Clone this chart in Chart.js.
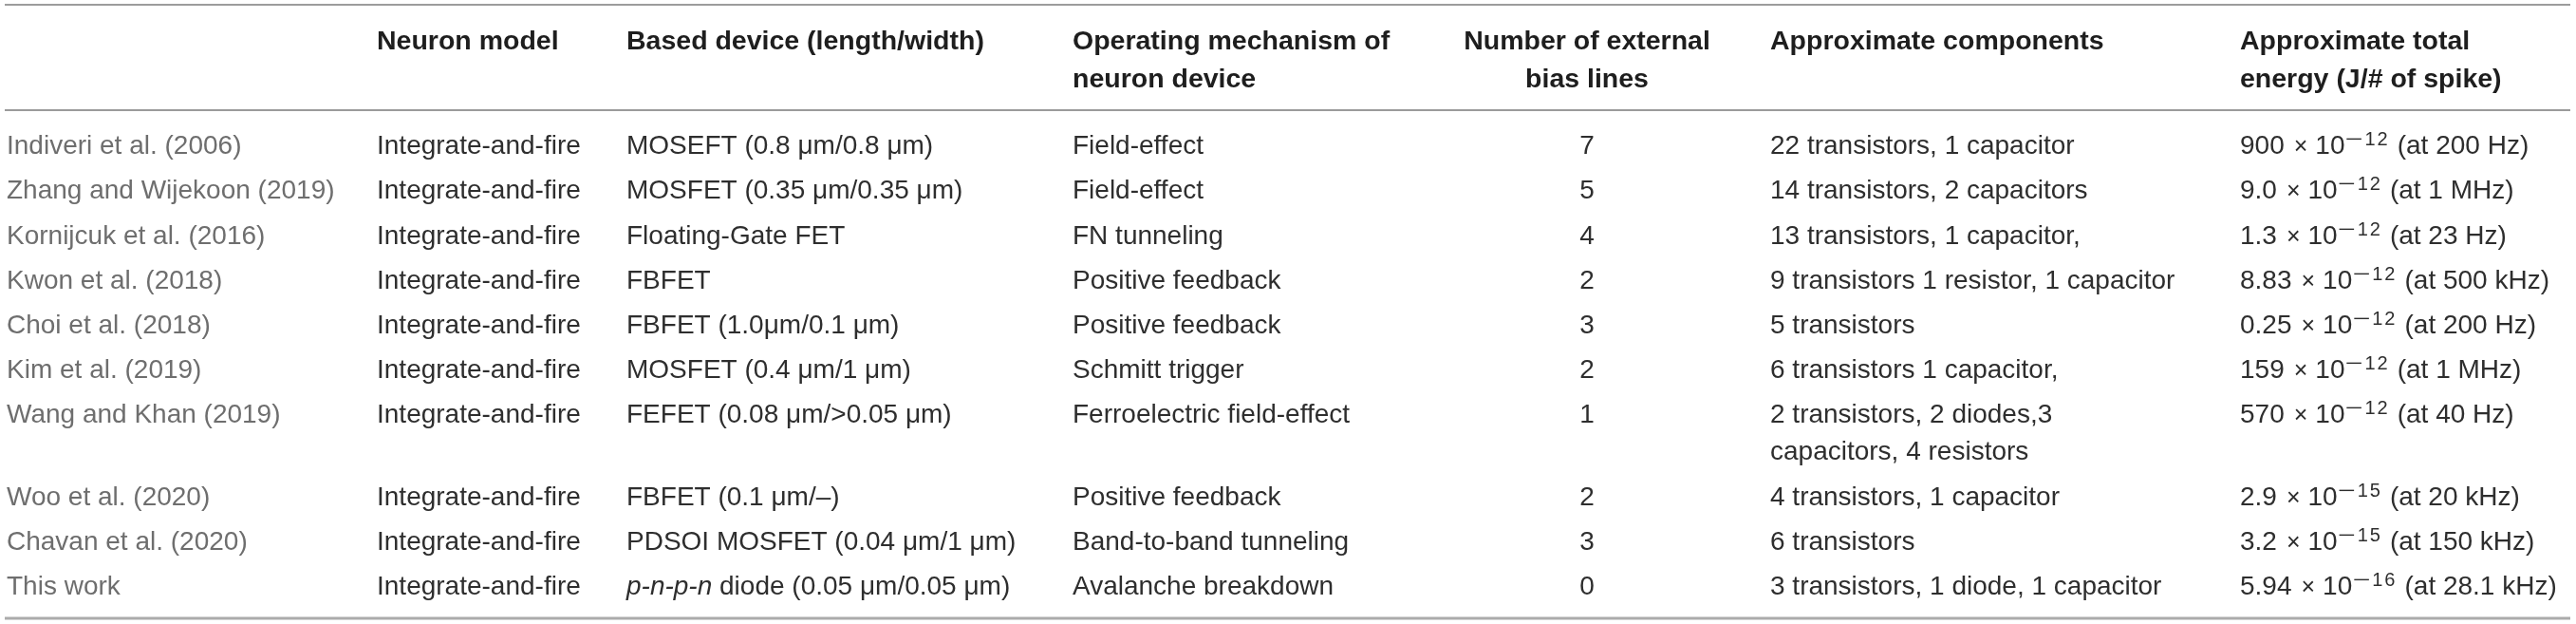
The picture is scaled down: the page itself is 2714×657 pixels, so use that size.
<!DOCTYPE html>
<html>
<head>
<meta charset="utf-8">
<script src="https://cdn.jsdelivr.net/npm/chart.js@4.4.1/dist/chart.umd.min.js"></script>
<style>
  html, body { margin: 0; padding: 0; background: #ffffff; }
  #wrap { width: 2714px; height: 657px; position: relative; }
</style>
</head>
<body>
<div id="wrap"><canvas id="c"></canvas></div>
<script>
// ---------------- DATA ----------------
const headers = [
  [""],
  ["Neuron model"],
  ["Based device (length/width)"],
  ["Operating mechanism of", "neuron device"],
  ["Number of external", "bias lines"],
  ["Approximate components"],
  ["Approximate total", "energy (J/# of spike)"]
];
const studies = [
  "Indiveri et al. (2006)", "Zhang and Wijekoon (2019)", "Kornijcuk et al. (2016)",
  "Kwon et al. (2018)", "Choi et al. (2018)", "Kim et al. (2019)",
  "Wang and Khan (2019)", "Woo et al. (2020)", "Chavan et al. (2020)", "This work"
];
const neuronModels = [
  "Integrate-and-fire", "Integrate-and-fire", "Integrate-and-fire", "Integrate-and-fire",
  "Integrate-and-fire", "Integrate-and-fire", "Integrate-and-fire", "Integrate-and-fire",
  "Integrate-and-fire", "Integrate-and-fire"
];
const devicePrefixItalic = ["", "", "", "", "", "", "", "", "", "p-n-p-n"];
const devices = [
  "MOSEFT (0.8 \u03bcm/0.8 \u03bcm)", "MOSFET (0.35 \u03bcm/0.35 \u03bcm)", "Floating-Gate FET",
  "FBFET", "FBFET (1.0\u03bcm/0.1 \u03bcm)", "MOSFET (0.4 \u03bcm/1 \u03bcm)",
  "FEFET (0.08 \u03bcm/>0.05 \u03bcm)", "FBFET (0.1 \u03bcm/\u2013)",
  "PDSOI MOSFET (0.04 \u03bcm/1 \u03bcm)", " diode (0.05 \u03bcm/0.05 \u03bcm)"
];
const mechanisms = [
  "Field-effect", "Field-effect", "FN tunneling", "Positive feedback", "Positive feedback",
  "Schmitt trigger", "Ferroelectric field-effect", "Positive feedback",
  "Band-to-band tunneling", "Avalanche breakdown"
];
const biasLines = [7, 5, 4, 2, 3, 2, 1, 2, 3, 0];
const components = [
  "22 transistors, 1 capacitor", "14 transistors, 2 capacitors", "13 transistors, 1 capacitor,",
  "9 transistors 1 resistor, 1 capacitor", "5 transistors", "6 transistors 1 capacitor,",
  "2 transistors, 2 diodes,3 capacitors, 4 resistors", "4 transistors, 1 capacitor",
  "6 transistors", "3 transistors, 1 diode, 1 capacitor"
];
const energyMantissa = ["900", "9.0", "1.3", "8.83", "0.25", "159", "570", "2.9", "3.2", "5.94"];
const energyExponent = ["12", "12", "12", "12", "12", "12", "12", "15", "15", "16"];
const energyFreq = ["200 Hz", "1 MHz", "23 Hz", "500 kHz", "200 Hz", "1 MHz", "40 Hz", "20 kHz", "150 kHz", "28.1 kHz"];

// ---------------- LAYOUT / STYLE ----------------
const W = 2714, H = 657;
const colX = [7, 397, 660, 1130, 1672, 1865, 2360];
const compWrapWidth = 440;
const FONT = '"Liberation Sans", Arial, Helvetica, sans-serif';
const extraLineUnits = 0.83, padTop = 0.29, padBottom = 0.22;

function wrap(ctx, text, maxW) {
  const words = text.split(' ');
  const lines = [];
  let cur = '';
  for (const w of words) {
    const t = cur ? cur + ' ' + w : w;
    if (ctx.measureText(t).width > maxW && cur) { lines.push(cur); cur = w; }
    else cur = t;
  }
  if (cur) lines.push(cur);
  return lines;
}

const mctx = document.createElement('canvas').getContext('2d');
mctx.font = '28px ' + FONT;
const compLines = components.map(c => wrap(mctx, c, compWrapWidth));
const rowStart = [];
let acc = padTop;
compLines.forEach(l => { rowStart.push(acc); acc += 1 + (l.length - 1) * extraLineUnits; });
const yTotal = acc + padBottom;

const tablePlugin = {
  id: 'tablePlugin',
  afterDraw(chart) {
    const ctx = chart.ctx;
    const xs = chart.scales.x, ys = chart.scales.y;
    const area = chart.chartArea;
    const px = v => xs.getPixelForValue(v);
    const unitPx = Math.abs(ys.getPixelForValue(1) - ys.getPixelForValue(0));
    ctx.save();
    // rules
    ctx.lineCap = 'butt';
    ctx.strokeStyle = '#9c9c9c'; ctx.lineWidth = 2;
    ctx.beginPath(); ctx.moveTo(5, 5); ctx.lineTo(2708, 5); ctx.stroke();
    ctx.strokeStyle = '#7a7a7a'; ctx.lineWidth = 1.5;
    ctx.beginPath(); ctx.moveTo(5, area.top); ctx.lineTo(2708, area.top); ctx.stroke();
    ctx.strokeStyle = '#ababab'; ctx.lineWidth = 3;
    ctx.beginPath(); ctx.moveTo(5, area.bottom); ctx.lineTo(2708, area.bottom); ctx.stroke();

    // headers
    ctx.textBaseline = 'alphabetic';
    ctx.fillStyle = '#1e1e1e';
    ctx.font = 'bold 28.5px ' + FONT;
    headers.forEach((lines, c) => {
      lines.forEach((t, i) => {
        const base = 52 + i * 40;
        ctx.textAlign = (c === 4) ? 'center' : 'left';
        ctx.fillText(t, px(colX[c]), base);
      });
    });

    // rows
    const lineStep = extraLineUnits * unitPx;
    studies.forEach((s, r) => {
      const center = ys.getPixelForValue(rowStart[r] + 0.5);
      const base = center + 9;
      ctx.textAlign = 'left';
      ctx.font = '28px ' + FONT;
      ctx.fillStyle = '#6e6e6e';
      ctx.fillText(s, px(colX[0]), base);
      ctx.fillStyle = '#2e2e2e';
      ctx.fillText(neuronModels[r], px(colX[1]), base);
      let x = px(colX[2]);
      if (devicePrefixItalic[r]) {
        ctx.font = 'italic 28px ' + FONT;
        ctx.fillText(devicePrefixItalic[r], x, base);
        x += ctx.measureText(devicePrefixItalic[r]).width;
        ctx.font = '28px ' + FONT;
      }
      ctx.fillText(devices[r], x, base);
      ctx.fillText(mechanisms[r], px(colX[3]), base);
      ctx.textAlign = 'center';
      ctx.fillText(String(biasLines[r]), px(colX[4]), base);
      ctx.textAlign = 'left';
      compLines[r].forEach((t, i) => ctx.fillText(t, px(colX[5]), base + i * lineStep));
      // energy: mantissa × 10^-exp (at freq)
      x = px(colX[6]);
      ctx.fillText(energyMantissa[r], x, base);
      x += ctx.measureText(energyMantissa[r]).width + 10;
      ctx.font = '25px ' + FONT;
      ctx.fillText('\u00d7', x, base);
      x += ctx.measureText('\u00d7').width + 8;
      ctx.font = '28px ' + FONT;
      ctx.fillText('10', x, base);
      x += ctx.measureText('10').width + 2;
      ctx.font = '20px ' + FONT;
      ctx.save();
      ctx.translate(x, base - 9);
      ctx.scale(1.6, 1);
      ctx.fillText('\u2212', -1, 0);
      ctx.restore();
      x += 19;
      ctx.save();
      ctx.letterSpacing = '2px';
      ctx.fillText(energyExponent[r], x, base - 9);
      x += ctx.measureText(energyExponent[r]).width;
      ctx.restore();
      x += 8;
      ctx.font = '28px ' + FONT;
      ctx.fillText('(at ' + energyFreq[r] + ')', x, base);
    });
    ctx.restore();
  }
};

new Chart(document.getElementById('c'), {
  type: 'scatter',
  data: { datasets: [{ label: 'Number of external bias lines', data: [], pointRadius: 0 }] },
  options: {
    responsive: true,
    maintainAspectRatio: false,
    devicePixelRatio: 1,
    animation: false,
    layout: { padding: { top: 116, bottom: H - 651, left: 0, right: 0 } },
    plugins: { legend: { display: false }, tooltip: { enabled: false } },
    scales: {
      x: { type: 'linear', display: false, min: 0, max: W },
      y: { type: 'linear', display: false, min: 0, max: yTotal, reverse: true }
    }
  },
  plugins: [tablePlugin]
});
</script>
</body>
</html>
